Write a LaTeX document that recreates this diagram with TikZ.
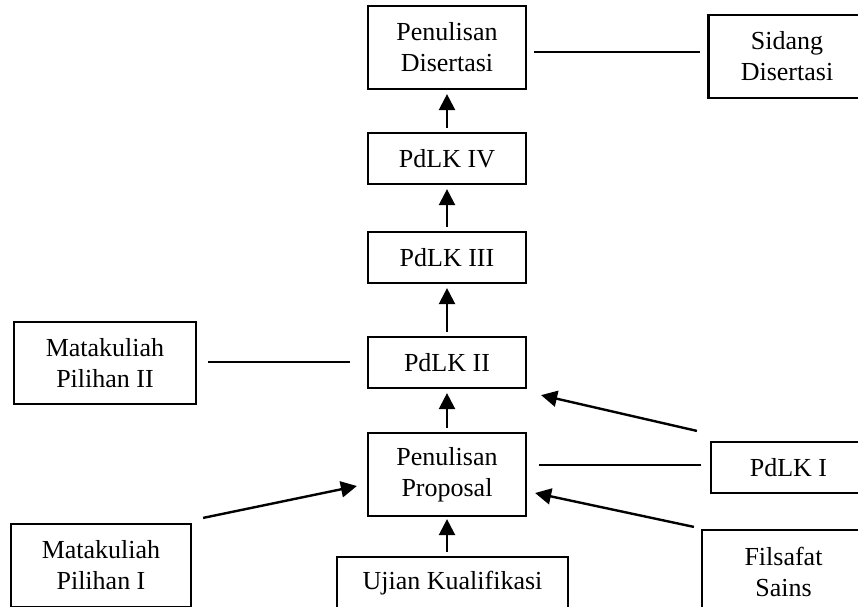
\documentclass[tikz,border=0pt]{standalone}
\usepackage{fontspec}
\setmainfont{Liberation Serif}
\usetikzlibrary{arrows.meta}

\tikzset{
    box/.style={draw, line width=2.2pt, inner sep=0pt, align=center,
        font=\fontsize{26}{31}\selectfont},
    flow/.style={line width=2.4pt, -{Triangle[length=16pt,width=16pt]}},
    link/.style={line width=2.4pt}
}

\begin{document}
\begin{tikzpicture}[x=1pt, y=-1pt]
    \useasboundingbox (0,0) rectangle (858,606);
    \node[box, minimum width=158pt, minimum height=83pt] (pendis) at (447,47.5) {Penulisan\\Disertasi};
    \node[box, minimum width=157pt, minimum height=83pt] (sidang) at (787,56.5) {Sidang\\Disertasi};
    \node[box, minimum width=158pt, minimum height=51pt] (pdlk4) at (447,158.5) {PdLK IV};
    \node[box, minimum width=158pt, minimum height=51pt] (pdlk3) at (447,257.5) {PdLK III};
    \node[box, minimum width=158pt, minimum height=51pt] (pdlk2) at (447,362.5) {PdLK II};
    \node[box, minimum width=182pt, minimum height=82pt] (matpil2) at (105,363) {Matakuliah\\Pilihan II};
    \node[box, minimum width=158pt, minimum height=83pt] (penprop) at (447,474.5) {Penulisan\\Proposal};
    \node[box, minimum width=155pt, minimum height=51pt] (pdlk1) at (788.5,467.5) {PdLK I};
    \node[box, minimum width=180pt, minimum height=83pt] (matpil1) at (101,565.5) {Matakuliah\\Pilihan I};
    \node[box, minimum width=231pt, minimum height=52pt] (ujian) at (452.5,583) {Ujian Kualifikasi};
    \node[box, minimum width=163pt, minimum height=83pt] (filsafat) at (783.5,571.5) {Filsafat\\Sains};

    \draw[flow, shorten <=4pt, shorten >=4pt] (pdlk4) -- (pendis);
    \draw[flow, shorten <=4pt, shorten >=4pt] (pdlk3) -- (pdlk4);
    \draw[flow, shorten <=4pt, shorten >=4pt] (pdlk2) -- (pdlk3);
    \draw[flow, shorten <=4pt, shorten >=4pt] (penprop) -- (pdlk2);
    \draw[flow, shorten <=4pt, shorten >=2pt] (ujian.north -| penprop.south) -- (penprop.south);
    \draw[flow] ([shift={(-13,-10)}]pdlk1.north west) -- ([shift={(14,6)}]pdlk2.south east);
    \draw[flow] ([shift={(-7,-2)}]filsafat.north west) -- ([shift={(8,18.5)}]penprop.east);
    \draw[flow] ([shift={(11,-5)}]matpil1.north east) -- ([shift={(-10,11.5)}]penprop.west);
    \draw[link] ([shift={(7,4.5)}]pendis.east) -- ([shift={(-7,-4.5)}]sidang.west);
    \draw[link] ([shift={(11,-1)}]matpil2.east) -- ([shift={(-17,-0.5)}]pdlk2.west);
    \draw[link] ([shift={(12,-9.5)}]penprop.east) -- ([shift={(-9,-2.5)}]pdlk1.west);
\end{tikzpicture}
\end{document}
